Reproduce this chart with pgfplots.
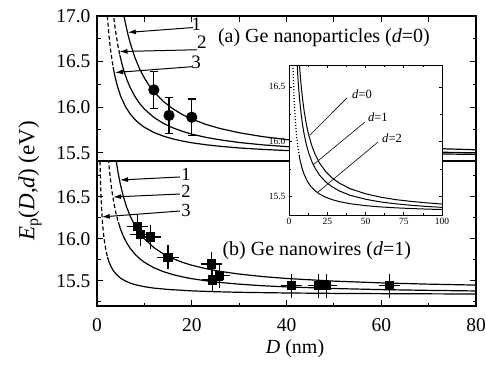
\documentclass[border=0pt]{standalone}
\usepackage{fontspec}
\setmainfont{Liberation Serif}
\usepackage{pgfplots}
\pgfplotsset{compat=1.18}
\usetikzlibrary{arrows.meta}

\pgfplotsset{
  mainax/.style={
    scale only axis, anchor=south west,
    width=379pt, height=145pt,
    xmin=0, xmax=80,
    font=\fontsize{19.5}{23}\selectfont,
    axis line style={line width=1.2pt},
    tick style={line width=1pt, black},
    major tick length=6pt, minor tick length=3.5pt,
    tick align=inside,
    xticklabel={\pgfmathprintnumber[assume math mode=true]{\tick}},
    yticklabel={\pgfmathprintnumber[assume math mode=true,fixed,fixed zerofill,precision=1]{\tick}},
    yticklabel style={xshift=-3pt},
    every axis plot/.append style={line width=1.2pt, black},
  },
  dsh/.style={dash pattern=on 4pt off 2.5pt},
}

\begin{document}
\begin{tikzpicture}
% ---------------- top panel ----------------
\begin{axis}[mainax, at={(97pt,204pt)},
  ymin=15.41, ymax=17.0,
  ytick={15.5,16,16.5,17}, minor ytick={15.75,16.25,16.75},
  xtick={0,10,...,80}, xticklabels={}, xtick pos=right]
% curve 1
\addplot[no marks] coordinates {(5.3,17.118)(5.6,17.027)(6,16.92)(6.5,16.805)(7,16.706)(8,16.545)(9,16.42)(10,16.32)(11,16.238)(12,16.17)(14,16.063)(16,15.983)(18,15.92)(20,15.87)(23,15.811)(26,15.766)(30,15.72)(35,15.677)(40,15.645)(50,15.60)(60,15.57)(70,15.549)(80,15.533)};
% curve 2
\addplot[no marks, dsh] coordinates {(3.4,17.048)(3.7,16.916)(4.0,16.805)(4.4,16.68)(4.8,16.576)};
\addplot[no marks] coordinates {(4.8,16.576)(5.2,16.488)(5.7,16.395)(6.3,16.303)(7,16.216)(8,16.118)(9,16.041)(10,15.98)(12,15.888)(14,15.823)(16,15.774)(18,15.736)(20,15.705)(23,15.669)(26,15.642)(30,15.613)(35,15.587)(40,15.568)(50,15.54)(60,15.522)(70,15.509)(80,15.499)};
% curve 3
\addplot[no marks, dsh] coordinates {(2.0,17.14)(2.2,16.985)(2.5,16.80)(2.9,16.612)(3.4,16.44)};
\addplot[no marks] coordinates {(3.4,16.44)(3.8,16.335)(4.3,16.231)(5,16.12)(6,16.007)(7,15.926)(8,15.865)(9,15.818)(10,15.78)(12,15.723)(14,15.683)(16,15.6525)(18,15.629)(20,15.61)(23,15.588)(26,15.571)(30,15.553)(35,15.537)(40,15.525)(50,15.508)(60,15.497)(70,15.489)(80,15.4825)};
% data
\addplot[only marks, mark=*, mark size=5pt, black,
  error bars/.cd, y dir=both, y explicit,
  error bar style={line width=1.2pt},
  error mark options={rotate=90, mark size=4pt, line width=1.2pt}]
  table[x=x, y=y, y error=ey] {
x y ey
12.0 16.19 0.2
15.2 15.91 0.2
20.0 15.89 0.2
};
% annotations
\draw[line width=1pt, -{Latex[length=8pt,width=5pt]}] (axis cs:20.25,16.873) -- (axis cs:6.5,16.82);
\draw[line width=1pt, -{Latex[length=8pt,width=5pt]}] (axis cs:21.1,16.63) -- (axis cs:4.75,16.61);
\draw[line width=1pt, -{Latex[length=8pt,width=5pt]}] (axis cs:20.05,16.444) -- (axis cs:3.8,16.38);
\node[font=\fontsize{19}{22}\selectfont, inner sep=0pt] at (axis cs:21.0,16.91) {1};
\node[font=\fontsize{19}{22}\selectfont, inner sep=0pt] at (axis cs:22.15,16.71) {2};
\node[font=\fontsize{19}{22}\selectfont, inner sep=0pt] at (axis cs:20.9,16.49) {3};
\node[font=\fontsize{20}{24}\selectfont] at (axis cs:47.9,16.763) {(a) Ge nanoparticles (\textit{d}=0)};
\end{axis}

% ---------------- bottom panel ----------------
\begin{axis}[mainax, at={(97pt,59pt)},
  ymin=15.2, ymax=16.925,
  ytick={15.5,16,16.5}, minor ytick={15.25,15.75,16.25,16.75},
  xtick={0,20,...,80}, minor xtick={10,30,50,70}, xtick pos=left,
  xticklabel style={yshift=-9pt}]
% curve 1
\addplot[no marks] coordinates {(4.0,16.945)(4.4,16.802)(4.9,16.656)(5.5,16.515)(6.2,16.386)(7,16.27)(8,16.1575)(9,16.07)(10,16.0)(12,15.895)(14,15.82)(16,15.764)(18,15.72)(20,15.685)(23,15.644)(26,15.612)(30,15.58)(35,15.55)(40,15.5275)(50,15.496)(60,15.475)(70,15.46)(80,15.449)};
% curve 2
\addplot[no marks, dsh] coordinates {(2.3,17.026)(2.5,16.89)(2.8,16.723)(3.1,16.588)(3.5,16.444)(4.0,16.305)(4.5,16.197)};
\addplot[no marks] coordinates {(4.5,16.197)(5,16.11)(5.6,16.026)(6.3,15.949)(7,15.887)(8,15.8175)(9,15.763)(10,15.72)(12,15.655)(14,15.609)(16,15.574)(18,15.547)(20,15.525)(23,15.50)(26,15.48)(30,15.46)(35,15.441)(40,15.4275)(50,15.408)(60,15.395)(70,15.386)(80,15.379)};
% curve 3
\addplot[no marks, dsh] coordinates {(0.6,16.997)(0.65,16.868)(0.75,16.663)(0.85,16.506)(1.0,16.33)(1.2,16.163)(1.45,16.02)(1.8,15.886)(2.2,15.7845)};
\addplot[no marks] coordinates {(2.2,15.7845)(2.6,15.715)(3,15.663)(3.5,15.616)(4,15.58)(5,15.53)(6,15.497)(7,15.473)(8,15.455)(10,15.43)(12,15.413)(15,15.397)(20,15.38)(25,15.37)(30,15.363)(40,15.355)(50,15.35)(60,15.347)(80,15.3425)};
% data
\addplot[only marks, mark=square*, mark size=4pt, black,
  error bars/.cd, x dir=both, x explicit, y dir=both, y explicit,
  error bar style={line width=1.2pt},
  error mark options={mark size=3.5pt, line width=1.2pt}]
  table[x=x, y=y, x error=ex, y error=ey] {
x y ex ey
8.5 16.15 1.5 0.1
9.2 16.05 1.5 0.1
11.3 16.02 1.5 0.1
15.0 15.78 1.5 0.1
24.1 15.70 1.5 0.1
24.4 15.51 1.5 0.1
25.8 15.56 1.5 0.1
41.0 15.44 1.5 0.1
46.8 15.44 1.5 0.1
48.4 15.44 1.5 0.1
61.8 15.44 1.5 0.1
};
\draw[line width=1pt, -{Latex[length=8pt,width=5pt]}] (axis cs:17.5,16.735) -- (axis cs:4.85,16.699);
\draw[line width=1pt, -{Latex[length=8pt,width=5pt]}] (axis cs:17.5,16.532) -- (axis cs:3.4,16.497);
\draw[line width=1pt, -{Latex[length=8pt,width=5pt]}] (axis cs:17.5,16.33) -- (axis cs:1.0,16.26);
\node[font=\fontsize{18.5}{22}\selectfont, inner sep=0pt, text height=12pt, text depth=0pt] at (axis cs:18.8,16.77) {1};
\node[font=\fontsize{18.5}{22}\selectfont, inner sep=0pt, text height=12pt, text depth=0pt] at (axis cs:18.8,16.565) {2};
\node[font=\fontsize{18.5}{22}\selectfont, inner sep=0pt, text height=12pt, text depth=0pt] at (axis cs:18.8,16.34) {3};
\node[font=\fontsize{20}{24}\selectfont] at (axis cs:46.4,15.854) {(b) Ge nanowires (\textit{d}=1)};
\end{axis}

% ---------------- inset ----------------
\begin{axis}[scale only axis, anchor=south west, at={(289pt,150pt)},
  width=153pt, height=150pt,
  xmin=0, xmax=100, ymin=15.33, ymax=16.7,
  xtick={0,25,...,100}, minor x tick num=1,
  ytick={15.5,16,16.5}, minor y tick num=1,
  axis background/.style={fill=white},
  font=\fontsize{9.5}{11}\selectfont,
  tick align=inside,
  axis line style={line width=0.9pt},
  tick style={line width=0.7pt, black},
  major tick length=3pt, minor tick length=2pt,
  xticklabel={\pgfmathprintnumber[assume math mode=true]{\tick}},
  yticklabel={\pgfmathprintnumber[assume math mode=true,fixed,fixed zerofill,precision=1]{\tick}},
  every axis plot/.append style={line width=1pt, black}]
\addplot[no marks] coordinates {(6.6,16.751)(7.2,16.633)(8,16.503)(9,16.374)(10,16.27)(11.5,16.148)(13,16.055)(15,15.959)(17,15.886)(20,15.8035)(24,15.726)(28,15.67)(33,15.62)(40,15.57)(50,15.524)(60,15.4925)(70,15.47)(80,15.454)(90,15.441)(100,15.430)};
\addplot[no marks] coordinates {(5.2,16.737)(5.7,16.613)(6.3,16.49)(7,16.374)(8,16.243)(9,16.141)(10,16.06)(11.5,15.964)(13,15.891)(15,15.816)(17,15.758)(20,15.6935)(24,15.632)(28,15.589)(33,15.549)(40,15.51)(50,15.474)(60,15.449)(70,15.432)(80,15.4186)(90,15.408)(100,15.400)};
\addplot[no marks, dotted, line width=1.2pt] coordinates {(2.5,16.753)(2.8,16.602)(3.2,16.445)(3.7,16.296)(4.3,16.164)(5,16.049)(5.8,15.952)(6.7,15.87)};
\addplot[no marks] coordinates {(6.7,15.87)(7.5,15.814)(8.5,15.759)(10,15.697)(12,15.638)(14,15.596)(17,15.552)(20,15.521)(24,15.492)(28,15.471)(33,15.452)(40,15.433)(50,15.4154)(60,15.4037)(70,15.3953)(80,15.389)(90,15.384)(100,15.380)};
\draw[line width=0.6pt] (axis cs:37.9,16.40) -- (axis cs:13.7,16.06);
\draw[line width=0.6pt] (axis cs:49.7,16.18) -- (axis cs:15.7,15.787);
\draw[line width=0.6pt] (axis cs:58.2,15.997) -- (axis cs:19.0,15.54);
\node[font=\fontsize{12.5}{14}\selectfont, anchor=west, inner sep=0pt] at (axis cs:41.2,16.43) {\textit{d}=0};
\node[font=\fontsize{12.5}{14}\selectfont, anchor=west, inner sep=0pt] at (axis cs:51.6,16.22) {\textit{d}=1};
\node[font=\fontsize{12.5}{14}\selectfont, anchor=west, inner sep=0pt] at (axis cs:60.8,16.03) {\textit{d}=2};
\end{axis}

% axis labels
\node[rotate=90, font=\fontsize{23}{27}\selectfont] at (30pt,184pt) {\textit{E}\textsubscript{p}(\textit{D},\textit{d}) (eV)};
\node[font=\fontsize{20}{24}\selectfont] at (295pt,16pt) {\textit{D} (nm)};

\pgfresetboundingbox
\path[use as bounding box] (0pt,0pt) rectangle (486pt,365pt);
\end{tikzpicture}
\end{document}
